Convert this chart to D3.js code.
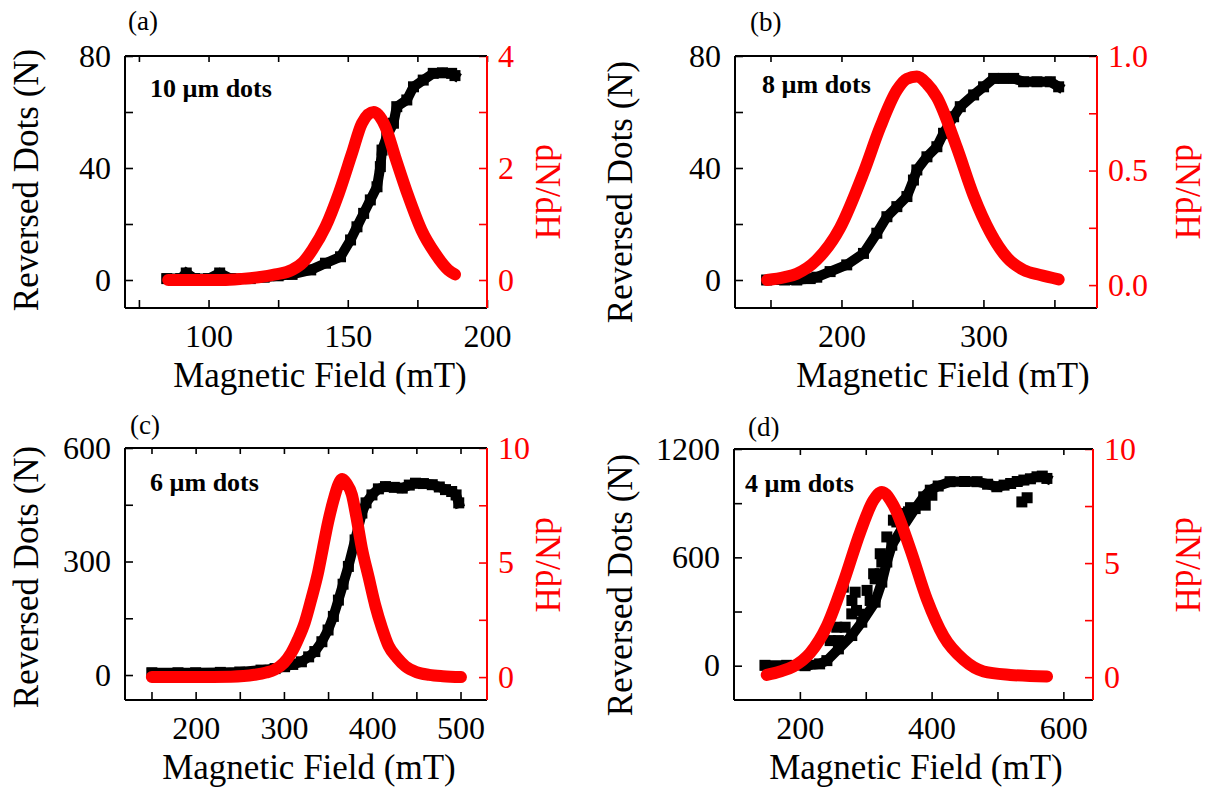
<!DOCTYPE html>
<html><head><meta charset="utf-8">
<script src="https://cdn.jsdelivr.net/npm/d3@7"></script>
<style>
body{margin:0;background:#fff}
text{font-family:"Liberation Serif","Times New Roman",serif}
</style>
</head><body>
<svg id="chart" width="1210" height="797"></svg>
<script>
// ---------------- data ----------------
// (a) 10 µm dots
const blackFieldA = [85,90,92,95,100,104,108,115,120,125,130,136.7,142,147.4,151,153.3,155.7,158.1,160.5,161.7,162.3,164,166.4,167.6,171.2,173.6,177.1,180.7,184,187.3,188.5];
const blackCountA = [0.5,0.5,2.5,0.5,0.5,2.5,0.5,0.5,1,1.5,2,3.6,6,8.3,14.3,19,23.8,28.6,33.3,40.5,46.4,51.2,56,61.9,64.3,69,71.4,73.8,74,73.8,73];
const redFieldA = [85.5,95,105,112,118,124,130,134,137.3,142,146.8,151.5,155.1,159.3,163.5,167,171.8,176.5,181.3,186.1,188.5];
const redRateA = [0,0,0,0.02,0.05,0.1,0.18,0.32,0.54,0.95,1.55,2.26,2.8,3.0,2.74,2.2,1.49,0.89,0.48,0.18,0.1];

// (b) 8 µm dots
const blackFieldB = [147.3,160,168.5,178,182.6,192,203.7,215.5,224.9,232,239,246.1,250.7,253.1,260.2,267.2,271.9,279,283.7,293.1,300.1,307.2,314,321.3,328.3,337.7,347.1,353];
const blackCountB = [0,0,0,0.5,1,3,5.4,9.5,16.7,22.6,26.2,29.8,35.7,39.3,44,47.6,52.4,58.3,61.9,66.1,69,72,72,72,70.8,70.8,70.8,69];
const redFieldB = [147.6,160,168.5,182.6,199,215.5,227.3,239,246,253.1,260,267.2,281.3,293.1,304.8,316.6,328.3,340.1,353];
const redRateB = [0.022,0.035,0.05,0.11,0.25,0.49,0.69,0.85,0.9,0.91,0.88,0.82,0.6,0.39,0.23,0.12,0.066,0.044,0.025];

// (c) 6 µm dots
const blackFieldC = [150.4,180,200,228,250,274,290,300.7,310,319.8,328,335,343,350,356,361.7,367,373,380.6,388.3,393,399.7,407,415,425,434,442,449,458,468,476,483,490,495,498];
const blackCountC = [6,6,6,7,8,13,17,22,28,35,48,62,88,119,155,198,240,287,357,428,455,476,492,498,496,494,502,507,506,503,497,490,485,476,455];
const redFieldC = [150.4,200,240,266.5,280,289.3,300,308.4,316,323.6,331,338.8,344,350.2,356,361.7,366,371,376.9,382,388.3,396,403.5,411,418.7,428,437.7,450,464.4,480,500.5];
const redRateC = [0,0,0.02,0.1,0.2,0.32,0.62,1.06,1.65,2.38,3.4,4.59,5.6,6.79,7.7,8.41,8.65,8.45,7.97,7.0,5.62,4.35,3.12,2.15,1.35,0.85,0.47,0.22,0.1,0.04,0];

// (d) 4 µm dots (main sweep + scattered upper-branch points)
const blackFieldD = [147,180,207.9,230,241,258.5,278.8,294,314.3,324.4,332,339.6,354.8,375,388,398,410,428,450,469,485,499,510,520,530,540,550,560,568,575];
const blackCountD = [2,2,0,10,28,93,167,241,352,463,574,667,759,870,935,972,995,1019,1020,1019,1005,991,1000,1009,1020,1028,1035,1046,1050,1037];
const scatterFieldD = [246,256,258.5,266,268.7,278.8,279,283.9,286,297,302,306.7,312,314.3,321.9,322,324.4,332,342,347.2,357.3,364.9,368,390.3,400.4,537,545];
const scatterCountD = [139,213,139,435,213,287,361,407,306,285,417,361,509,481,509,620,574,713,806,796,843,852,875,889,944,907,930];
const redFieldD = [149.7,170,190.1,215.5,240.9,266.1,291.5,311.7,324.5,342.1,367.5,392.9,418.2,448.6,479,519.5,575.2];
const redRateD = [0.1,0.25,0.47,1.06,2.24,4.15,6.35,7.75,8.12,7.53,5.62,3.41,1.79,0.76,0.25,0.1,0.03];

// tick values and tick labels
const xTicksA = [75,100,125,150,175,200], xLabelsA = [100,150,200];
const xTicksB = [150,200,250,300,350], xLabelsB = [200,300];
const xTicksC = [150,200,250,300,350,400,450,500], xLabelsC = [200,300,400,500];
const xTicksD = [200,300,400,500,600], xLabelsD = [200,400,600];
const yTicksA = [0,20,40,60,80], yLabelsA = [0,40,80];
const yTicksB = [0,20,40,60,80], yLabelsB = [0,40,80];
const yTicksC = [0,150,300,450,600], yLabelsC = [0,300,600];
const yTicksD = [0,300,600,900,1200], yLabelsD = [0,600,1200];
const rTicksA = [0,1,2,3,4], rLabelsA = [0,2,4];
const rTicksB = [0,0.25,0.5,0.75,1], rLabelsB = [0,0.5,1];
const rTicksC = [0,2.5,5,7.5,10], rLabelsC = [0,5,10];
const rTicksD = [0,2.5,5,7.5,10], rLabelsD = [0,5,10];

const panelTags = ["(a)","(b)","(c)","(d)"];
const dotLabels = ["10 µm dots","8 µm dots","6 µm dots","4 µm dots"];
const xTitle = "Magnetic Field (mT)", yTitle = "Reversed Dots (N)", rTitle = "dN/dH";

// ---------------- layout ----------------
const RED = "#ff0000";
const svg = d3.select("#chart");
const zip = (a,b) => a.map((v,i)=>[v,b[i]]);

const panels = [
 {tag:0, l:125, r:487, t:56, b:308, xd:[70,200], yld:[-10,80], yrd:[-0.5,4],
  bx:blackFieldA, by:blackCountA, rx:redFieldA, ry:redRateA,
  xt:xTicksA, xl:xLabelsA, yt:yTicksA, yl:yLabelsA, rt:rTicksA, rl:rLabelsA, rfmt:d3.format("d"),
  tagX:128, tagY:30, labX:150, labY:97, xtX:320, ytX:38, ytY:180, rtX:536, rtY:192},
 {tag:1, l:735, r:1097, t:56, b:308, xd:[125,380], yld:[-10,80], yrd:[-0.1,1.0],
  bx:blackFieldB, by:blackCountB, rx:redFieldB, ry:redRateB,
  xt:xTicksB, xl:xLabelsB, yt:yTicksB, yl:yLabelsB, rt:rTicksB, rl:rLabelsB, rfmt:d3.format(".1f"),
  tagX:750, tagY:31, labX:762, labY:93, xtX:943, ytX:632, ytY:192, rtX:1176, rtY:192},
 {tag:2, l:125, r:487, t:448, b:700, xd:[120,530], yld:[-66,600], yrd:[-1,10],
  bx:blackFieldC, by:blackCountC, rx:redFieldC, ry:redRateC,
  xt:xTicksC, xl:xLabelsC, yt:yTicksC, yl:yLabelsC, rt:rTicksC, rl:rLabelsC, rfmt:d3.format("d"),
  tagX:130, tagY:434, labX:150, labY:491, xtX:309, ytX:38, ytY:577, rtX:536, rtY:565},
 {tag:3, l:734, r:1093, t:449, b:700, xd:[100,645], yld:[-190,1200], yrd:[-1,10],
  bx:blackFieldD, by:blackCountD, rx:redFieldD, ry:redRateD, sx:scatterFieldD, sy:scatterCountD,
  xt:xTicksD, xl:xLabelsD, yt:yTicksD, yl:yLabelsD, rt:rTicksD, rl:rLabelsD, rfmt:d3.format("d"),
  tagX:748, tagY:436, labX:745, labY:492, xtX:916, ytX:632, ytY:585, rtX:1176, rtY:565}
];

panels.forEach(p => {
  const g = svg.append("g");
  const x = d3.scaleLinear().domain(p.xd).range([p.l, p.r]);
  const yL = d3.scaleLinear().domain(p.yld).range([p.b, p.t]);
  const yR = d3.scaleLinear().domain(p.yrd).range([p.b, p.t]);

  // black measured data: thick band of square markers
  const bData = zip(p.bx, p.by);
  g.append("path").datum(bData)
    .attr("d", d3.line().x(d=>x(d[0])).y(d=>yL(d[1])))
    .attr("fill","none").attr("stroke","#000").attr("stroke-width",10)
    .attr("stroke-linejoin","miter").attr("stroke-linecap","square");
  const sq = 11;
  g.selectAll("rect.b").data(bData.concat(p.sx ? zip(p.sx,p.sy) : [])).enter().append("rect")
    .attr("x", d=>x(d[0])-sq/2).attr("y", d=>yL(d[1])-sq/2)
    .attr("width",sq).attr("height",sq).attr("fill","#000");

  // red derivative curve
  g.append("path").datum(zip(p.rx, p.ry))
    .attr("d", d3.line().curve(d3.curveMonotoneX).x(d=>x(d[0])).y(d=>yR(d[1])))
    .attr("fill","none").attr("stroke",RED).attr("stroke-width",12)
    .attr("stroke-linecap","round").attr("stroke-linejoin","round");

  // axes
  const fmtSel = (labels, f) => d => labels.some(v=>Math.abs(v-d)<1e-9) ? f(d) : "";
  g.append("g").attr("transform",`translate(0,${p.b})`)
    .call(d3.axisBottom(x).tickValues(p.xt).tickSize(-8).tickPadding(16).tickFormat(fmtSel(p.xl, d3.format("d"))));
  g.append("g").attr("transform",`translate(0,${p.t})`)
    .call(d3.axisTop(x).tickValues(p.xt).tickSize(-6).tickFormat(""));
  g.append("g").attr("transform",`translate(${p.l},0)`)
    .call(d3.axisLeft(yL).tickValues(p.yt).tickSize(-8).tickPadding(14).tickFormat(fmtSel(p.yl, d3.format("d"))));
  const right = g.append("g").attr("transform",`translate(${p.r},0)`)
    .call(d3.axisRight(yR).tickValues(p.rt).tickSize(-8).tickPadding(11).tickFormat(fmtSel(p.rl, p.rfmt)));
  g.selectAll(".domain").remove();
  g.selectAll(".tick line").attr("stroke","#000").attr("stroke-width",1.6);
  right.selectAll(".tick line").attr("stroke",RED);
  g.selectAll(".tick text").attr("font-size",32).attr("fill","#000")
    .style("font-family",'"Liberation Serif","Times New Roman",serif');
  right.selectAll(".tick text").attr("fill",RED);

  // frame
  g.append("line").attr("x1",p.l).attr("x2",p.r).attr("y1",p.t).attr("y2",p.t).attr("stroke","#000").attr("stroke-width",2);
  g.append("line").attr("x1",p.l).attr("x2",p.r).attr("y1",p.b).attr("y2",p.b).attr("stroke","#000").attr("stroke-width",2);
  g.append("line").attr("x1",p.l).attr("x2",p.l).attr("y1",p.t).attr("y2",p.b).attr("stroke","#000").attr("stroke-width",2);
  g.append("line").attr("x1",p.r).attr("x2",p.r).attr("y1",p.t).attr("y2",p.b).attr("stroke",RED).attr("stroke-width",2);

  // texts
  g.append("text").attr("x",p.tagX).attr("y",p.tagY).attr("font-size",27).text(panelTags[p.tag]);
  g.append("text").attr("x",p.labX).attr("y",p.labY).attr("font-size",26).attr("font-weight","bold").text(dotLabels[p.tag]);
  g.append("text").attr("x",p.xtX).attr("y",p.b+79).attr("font-size",35).attr("text-anchor","middle").text(xTitle);
  g.append("text").attr("transform",`translate(${p.ytX},${p.ytY}) rotate(-90)`).attr("font-size",35).attr("text-anchor","middle").text(yTitle);
  g.append("text").attr("transform",`translate(${p.rtX},${p.rtY}) rotate(90)`).attr("font-size",35).attr("text-anchor","middle").attr("fill",RED).text(rTitle);
});
</script>
</body></html>
